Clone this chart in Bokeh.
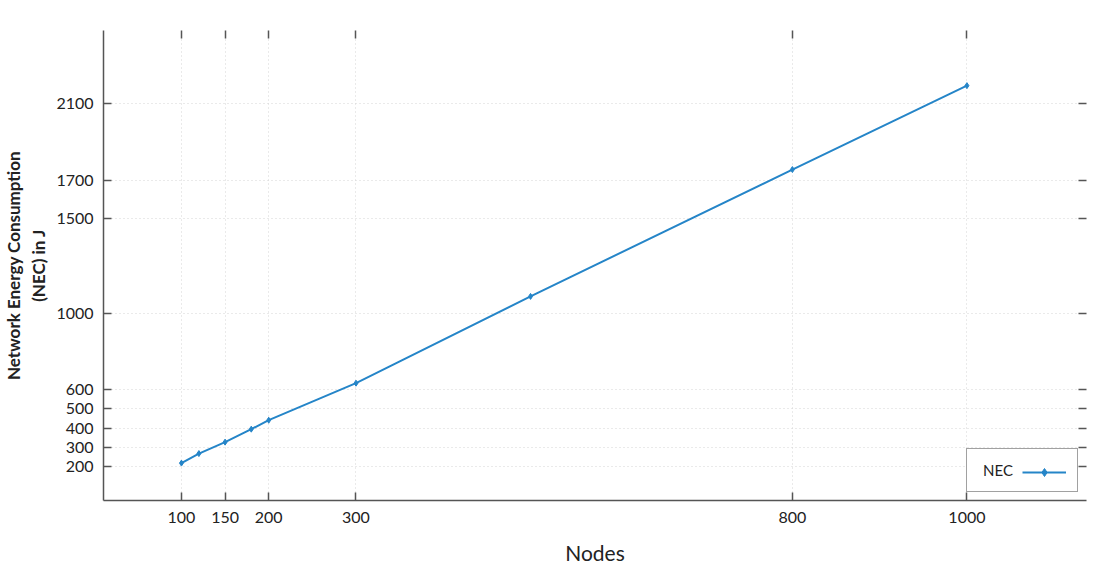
from bokeh.plotting import figure
from bokeh.models import Range1d, FixedTicker, LinearAxis, Legend, LegendItem, CustomJSTickFormatter
from bokeh.embed import file_html
from bokeh.resources import INLINE

nodes = [100, 120, 150, 180, 200, 300, 500, 800, 1000]
nec = [216, 266, 326, 394, 441, 635, 1090, 1755, 2195]
x_ticks = [100, 150, 200, 300, 800, 1000]
y_ticks = [200, 300, 400, 500, 600, 1000, 1500, 1700, 2100]

FONT = "Lato"
LINE_COLOR = "#2585c8"
AX_COLOR = "#555555"
TXT = "#222222"

p = figure(frame_width=983, frame_height=470, output_backend="svg", toolbar_location=None,
           x_range=Range1d(10.7, 1137), y_range=Range1d(20, 2484),
           min_border_left=95, min_border_top=30, min_border_right=10, min_border_bottom=60,
           x_axis_label="Nodes", y_axis_label="Network Energy Consumption\n(NEC) in J")
p.outline_line_color = None
p.background_fill_color = "white"

for ax, ticks in ((p.xaxis[0], x_ticks), (p.yaxis[0], y_ticks)):
    ax.ticker = FixedTicker(ticks=ticks)
    ax.major_tick_in = 8
    ax.major_tick_out = 0
    ax.minor_tick_in = 0
    ax.minor_tick_out = 0
    ax.axis_line_color = AX_COLOR
    ax.axis_line_width = 1.5
    ax.major_tick_line_color = AX_COLOR
    ax.major_tick_line_width = 1.5
    ax.major_label_text_font = FONT
    ax.major_label_text_font_size = "16px"
    ax.major_label_text_color = TXT
    ax.axis_label_text_font = FONT
    ax.axis_label_text_color = TXT

p.xaxis[0].major_label_standoff = 11
p.yaxis[0].major_label_standoff = 10
p.xaxis[0].axis_label_text_font_size = "21px"
p.xaxis[0].axis_label_text_font_style = "normal"
p.xaxis[0].axis_label_standoff = 14
p.yaxis[0].axis_label_text_font_size = "17px"
p.yaxis[0].axis_label_text_font_style = "bold"
p.yaxis[0].axis_label_standoff = 4

blank = CustomJSTickFormatter(code="return ''")
top = LinearAxis(ticker=FixedTicker(ticks=x_ticks), axis_line_color=None, formatter=blank,
                 major_tick_in=8, major_tick_out=0, minor_tick_in=0, minor_tick_out=0,
                 major_tick_line_color=AX_COLOR, major_tick_line_width=1.5,
                 major_label_standoff=0)
right = LinearAxis(ticker=FixedTicker(ticks=y_ticks), axis_line_color=None, formatter=blank,
                   major_tick_in=8, major_tick_out=0, minor_tick_in=0, minor_tick_out=0,
                   major_tick_line_color=AX_COLOR, major_tick_line_width=1.5,
                   major_label_standoff=0)
p.add_layout(top, "above")
p.add_layout(right, "right")

for g in (p.xgrid[0], p.ygrid[0]):
    g.grid_line_color = "#d4d4d4"
    g.grid_line_dash = "1 3"
    g.grid_line_width = 1

ln = p.line(nodes, nec, line_color=LINE_COLOR, line_width=2)
sc = p.scatter(nodes, nec, marker="diamond", size=6, fill_color=LINE_COLOR, line_color=LINE_COLOR)

leg_box = Legend(items=[LegendItem(label="NEC", renderers=[ln])], location=(863, 8),
                 glyph_width=0, glyph_height=22, label_height=22, label_width=84,
                 label_standoff=6, padding=10, spacing=0,
                 border_line_color="#444444", border_line_width=1,
                 background_fill_color="white", background_fill_alpha=1,
                 label_text_font=FONT, label_text_font_size="15px", label_text_color=TXT)
leg_glyph = Legend(items=[LegendItem(label=" ", renderers=[ln, sc])], location=(919, 18),
                   glyph_width=44, glyph_height=20, label_height=20, label_width=0,
                   label_standoff=0, padding=0, spacing=0,
                   border_line_color=None, background_fill_alpha=0,
                   label_text_font_size="1px")
p.add_layout(leg_box, "center")
p.add_layout(leg_glyph, "center")

open("out.html", "w").write(file_html(p, INLINE))
